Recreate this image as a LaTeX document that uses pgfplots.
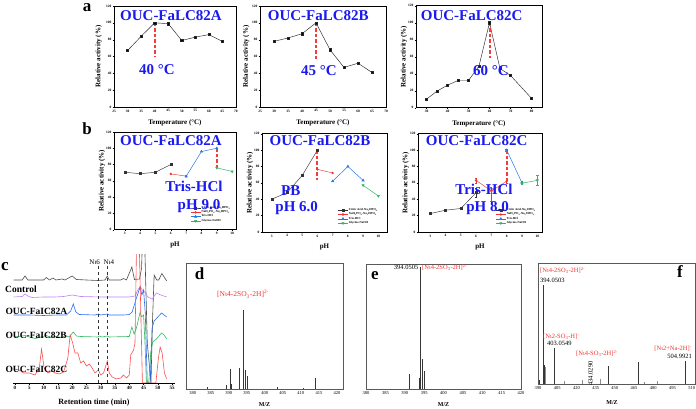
\documentclass[border=0pt]{standalone}
\usepackage{fontspec}
\setmainfont{Liberation Serif}
\usepackage{pgfplots}
\pgfplotsset{compat=1.18}
\definecolor{tblue}{RGB}{25,25,240}
\definecolor{dred}{RGB}{245,60,60}
\definecolor{lblue}{RGB}{40,120,230}
\definecolor{lgreen}{RGB}{50,180,100}
\definecolor{lred}{RGB}{245,50,50}
\definecolor{cpurple}{RGB}{190,130,245}
\definecolor{cred}{RGB}{250,80,80}
\definecolor{cgreen}{RGB}{50,185,100}
\definecolor{cblue}{RGB}{40,110,240}
\definecolor{msc}{RGB}{55,55,55}
\pgfplotsset{
  ab/.style={scale only axis, anchor=south west, ymin=0, ymax=120, ytick={0,20,...,120},
    axis line style={line width=0.45pt},
    every tick/.style={black, line width=0.3pt},
    major tick length=1.5pt, tick align=outside, tick pos=left,
    ticklabel style={font=\fontsize{3.5}{4}\selectfont\bfseries, inner sep=1pt},
    label style={font=\fontsize{7}{8}\selectfont\bfseries},
    /pgf/number format/assume math mode=true,
    ylabel={Relative activity (\%)}, clip=false},
  temp/.style={xlabel={Temperature (°C)},
    xlabel style={at={(axis description cs:0.5,-0.16)},anchor=center}},
  phx/.style={xlabel={pH}, xtick={3,...,10},
    xlabel style={at={(axis description cs:0.5,-0.155)},anchor=center},
    legend style={draw=none, fill=none, font=\fontsize{3}{3.4}\selectfont\bfseries,
      anchor=north west, row sep=-0.6pt, nodes={inner sep=0.7pt}},
    legend cell align=left,
    legend image code/.code={\draw[mark repeat=2,mark phase=2,##1] plot coordinates {(0pt,0pt) (5pt,0pt) (10pt,0pt)};}},
  pa/.style={black!85, line width=0.45pt, mark=square*, mark size=1.1pt, mark options={fill=black}},
  pk/.style={black!80, line width=0.45pt, mark=square*, mark size=1.0pt},
  pr/.style={lred, line width=0.45pt, mark=*, mark size=1.0pt},
  pb/.style={lblue, line width=0.5pt, mark=triangle*, mark size=1.3pt},
  pg/.style={lgreen, line width=0.5pt, mark=triangle*, mark options={rotate=180}, mark size=1.3pt},
  dl/.style={dred, line width=2pt, dash pattern=on 3.5pt off 2pt, no marks, forget plot},
  ms/.style={scale only axis, anchor=south west, ymin=0, ytick=\empty,
    axis line style={black!65, line width=0.7pt},
    every tick/.style={black!70, line width=0.3pt},
    tick pos=left, tick align=outside, major tick length=1.5pt,
    ticklabel style={font=\fontsize{4.5}{5}\selectfont, inner sep=1pt},
    xlabel={M/Z}, label style={font=\fontsize{6}{7}\selectfont\bfseries},
    /pgf/number format/assume math mode=true, clip=true},
  bar/.style={ycomb, no marks, line width=0.6pt, color=msc},
  ct/.style={line width=0.6pt, no marks}
}
\begin{document}
\begin{tikzpicture}[x=1pt,y=1pt]
\useasboundingbox (0,0) rectangle (696,409);

% ---------------- panel a ----------------
\begin{axis}[ab, temp, at={(114pt,302pt)}, width=122pt, height=101pt,
  xmin=25, xmax=70, xtick={25,30,...,70},
  ylabel style={at={(axis description cs:-0.125,0.5)},anchor=center}]
\addplot[pa] coordinates {(30,67)(35,84)(40,100)(45,99)(50,79)(55,83)(60,86)(65,78)};
\addplot[dl] coordinates {(40,100)(40,59)};
\end{axis}
\begin{axis}[ab, temp, at={(260pt,302pt)}, width=126pt, height=101pt,
  xmin=25, xmax=70, xtick={25,30,...,70},
  ylabel style={at={(axis description cs:-0.11,0.5)},anchor=center}]
\addplot[pa] coordinates {(30,78)(35,82)(40,87)(45,100)(50,68)(55,47)(60,52)(65,41)};
\addplot[dl] coordinates {(45,100)(45,56)};
\end{axis}
\begin{axis}[ab, temp, at={(416pt,301.3pt)}, width=126pt, height=102pt,
  xmin=25, xmax=85, xtick={30,40,...,80},
  ylabel style={at={(axis description cs:-0.095,0.5)},anchor=center}]
\addplot[pa] coordinates {(30,10)(35,19.5)(40,26.5)(45,32)(50,32)(55,49)(60,100)(65,46)(70,38)(80,11)};
\addplot[dl] coordinates {(60,100)(60,58)};
\end{axis}

% ---------------- panel b ----------------
\begin{axis}[ab, phx, at={(114pt,179.3pt)}, width=122pt, height=97.7pt,
  xmin=2.3, xmax=10.25,
  ylabel style={at={(axis description cs:-0.098,0.5)},anchor=center},
  legend style={at={(axis description cs:0.6,0.27)}}]
\addplot[pk] coordinates {(3,70.5)(4,68.8)(5,70.5)(6,80)};
\addplot[pr] coordinates {(6,68.5)(7,65.8)};
\addplot[pb] coordinates {(7,65.5)(8,96)(9,100)};
\addplot[pg] coordinates {(9,76)(10,71.5)};
\addplot[dl] coordinates {(9,100)(9,75)};
\legend{Citric Acid-Na\textsubscript{2}HPO\textsubscript{4},NaH\textsubscript{2}PO\textsubscript{4}-Na\textsubscript{2}HPO\textsubscript{4},Tris-HCl,Glycine-NaOH}
\end{axis}
\begin{axis}[ab, phx, at={(262pt,177pt)}, width=125pt, height=98.3pt,
  xmin=2.36, xmax=10.57,
  ylabel style={at={(axis description cs:-0.097,0.5)},anchor=center},
  legend style={at={(axis description cs:0.58,0.27)}}]
\addplot[pk] coordinates {(3,40)(4,48)(5,69)(6,100)};
\addplot[pr] coordinates {(6,76.5)(7,72)};
\addplot[pb] coordinates {(7,62)(8,80)(9,63)};
\addplot[pg] coordinates {(9,57)(10,44)};
\addplot[dl] coordinates {(6,100)(6,64)};
\legend{Citric Acid-Na\textsubscript{2}HPO\textsubscript{4},NaH\textsubscript{2}PO\textsubscript{4}-Na\textsubscript{2}HPO\textsubscript{4},Tris-HCl,Glycine-NaOH}
\end{axis}
\begin{axis}[ab, phx, at={(418pt,177pt)}, width=124pt, height=98.3pt,
  xmin=2.2, xmax=10.31,
  ylabel style={at={(axis description cs:-0.1,0.5)},anchor=center},
  legend style={at={(axis description cs:0.6,0.27)}}]
\addplot[pk, error bars/.cd, y dir=both, y explicit] coordinates {(3,22.5)+-(0,1)(4,26.6)+-(0,0.8)(5,28.7)+-(0,0.8)(6,48)+-(0,5)};
\addplot[pr, error bars/.cd, y dir=both, y explicit] coordinates {(6,63)+-(0,3)(7,50)+=(0,5)-=(0,12)(8,62)+-(0,3)};
\addplot[pb, error bars/.cd, y dir=both, y explicit] coordinates {(8,100)+-(0,1)(9,60)+-(0,1.5)};
\addplot[pg, error bars/.cd, y dir=both, y explicit] coordinates {(9,59.5)+-(0,1)(10,63)+-(0,6)};
\addplot[dl] coordinates {(8,100)(8,62)};
\legend{Citric Acid-Na\textsubscript{2}HPO\textsubscript{4},NaH\textsubscript{2}PO\textsubscript{4}-Na\textsubscript{2}HPO\textsubscript{4},Tris-HCl,Glycine-NaOH}
\end{axis}

% ---------------- panel c ----------------
\begin{axis}[scale only axis, anchor=south west, at={(13pt,26pt)}, width=162pt, height=128pt,
  axis x line*=bottom, axis y line=none, x axis line style={-, line width=0.5pt},
  xmin=-0.7, xmax=56, ymin=0, ymax=128, xtick={0,5,...,55}, minor x tick num=1, ytick=\empty,
  every tick/.style={black, line width=0.3pt}, major tick length=2pt, minor tick length=1.2pt,
  tick align=outside,
  ticklabel style={font=\fontsize{5}{6}\selectfont\bfseries, inner sep=1pt},
  /pgf/number format/assume math mode=true,
  xlabel={Retention time (min)}, label style={font=\fontsize{8}{9}\selectfont\bfseries},
  xlabel style={at={(axis description cs:0.5,-0.155)},anchor=center}, clip=true]
\addplot[ct, black!70] coordinates {(-0.5,103)(2.5,103)(3.5,107)(4.5,103)(10,103)(11,105.5)(12,103)(13.3,105)(14.3,103)(16.5,104)(17.5,103)(20,107)(21.5,103.5)(25,103)(29,102.5)(31.5,103)(32.3,107)(33,103)(37,103)(38,104.5)(39,103)(40.9,116)(41.8,103.5)(43.6,104)(44.3,115)(44.7,150)(45.3,150)(46.3,40)(47.6,0)(48.1,60)(48.7,108)(49.6,103)(50.3,103)(51.4,109.5)(52.2,106)(53.1,102)};
\addplot[ct, cpurple] coordinates {(-0.5,86)(2.5,86.5)(3.5,89)(4.5,87)(6,85.5)(10,86)(14,86)(17,86.5)(20,88)(23,86.5)(30,86)(40,86)(42,87)(43,93)(43.8,96.5)(44.5,93)(45.5,91)(46.5,86)(48,84)(49.5,90)(51,88)(53.1,86)};
\addplot[ct, cblue] coordinates {(-0.5,68)(5,68)(10,67.5)(15,68)(18,68)(19.5,72)(20.4,79)(21.3,71)(22.5,68.5)(28,68)(29.2,69)(30,68)(32.3,69)(33,68)(38,68)(40,68.5)(41,71)(42.5,85)(43.8,96)(44.4,88)(45,93)(45.6,70)(46.3,0)(47.3,0)(48,55)(48.7,62)(50,66)(51.3,70)(52.2,68)(53.1,66)};
\addplot[ct, cgreen] coordinates {(-0.5,46)(2.5,47)(3.5,47.5)(5,46)(7,44.5)(9,46)(11,47.5)(12.5,45.5)(14,46.5)(16.5,45.5)(17.5,47.5)(19,46)(20.4,51)(21.5,47)(23,46.5)(29,46)(29.5,47)(30.5,46)(32.3,47)(33,46)(40,46.5)(40.9,56)(41.7,49)(42.5,55)(43.8,71)(44.3,66)(45,68)(45.5,40)(46,0)(46.8,0)(47.5,30)(48.2,41)(49.5,44)(51.3,50)(52.2,48)(53.1,44)};
\addplot[ct, cred] coordinates {(-0.5,14)(1.5,13)(3,10)(5,10)(7,8)(8.5,15)(9.3,34)(10.2,15)(11.5,10)(13,12)(14,10)(15.5,9)(17,11)(18.5,25)(19.3,48)(20.2,40)(21,30)(22,30)(23,20)(24,22)(25,17)(26,19)(27,15)(28,10)(29.2,13)(30,8)(31,10)(32.3,22)(33,10)(34,6)(35.5,4)(37,5)(38,8)(39,5)(40,8)(40.5,28)(41.5,33)(42,40)(42.6,150)(43.4,150)(44.6,0)(49.3,0)(50.2,25)(50.8,36)(51.5,30)(52.3,10)(53.1,4)};
\addplot[black!80, dashed, line width=0.5pt, no marks] coordinates {(29.1,0)(29.1,117)};
\addplot[black!80, dashed, line width=0.5pt, no marks] coordinates {(32.4,0)(32.4,117)};
\end{axis}

% ---------------- panel d ----------------
\begin{axis}[ms, at={(186pt,20pt)}, width=157pt, height=126pt,
  xmin=378.1, xmax=421.7, xtick={380,385,...,420}, ymax=126,
  xlabel style={at={(axis description cs:0.5,-0.127)},anchor=center}]
\addplot[bar] coordinates {(384,1.5)(389.2,4)(390.3,20)(390.6,5)(392.8,21)(394.05,79)(394.55,19)(395.05,13)(403.4,2)(410.8,1)(413.9,11)};
\end{axis}
% ---------------- panel e ----------------
\begin{axis}[ms, at={(366pt,20pt)}, width=155pt, height=125pt,
  xmin=380, xmax=420, xtick={380,385,...,420}, ymax=125,
  xlabel style={at={(axis description cs:0.5,-0.127)},anchor=center}]
\addplot[bar] coordinates {(391.1,15)(393.8,11)(394.05,121.7)(394.55,30)(395.05,17.7)};
\end{axis}
% ---------------- panel f ----------------
\begin{axis}[ms, at={(538pt,25pt)}, width=157.5pt, height=121pt,
  xmin=390, xmax=513, xtick={390,405,...,510}, ymax=121,
  xlabel style={at={(axis description cs:0.47,-0.15)},anchor=center}]
\addplot[bar] coordinates {(390.9,4)(394.05,99)(394.55,19)(395.05,17.3)(403.05,36.3)(444.8,18)(468.2,22.3)(505.0,23.3)};
\addplot[bar, color=black!45] coordinates {(395.6,17)(410.6,3)(424.6,4)(438.4,4.5)(472.8,1.5)(483.2,3)};
\end{axis}

% ---------------- texts ----------------
\tikzset{big/.style={font=\fontsize{17}{17}\selectfont\bfseries, anchor=base, inner sep=0pt},
  bt/.style={font=\fontsize{15}{15}\selectfont\bfseries, text=tblue, anchor=base, inner sep=0pt},
  cl/.style={font=\fontsize{9.5}{10}\selectfont\bfseries, anchor=base west, inner sep=0pt},
  rl/.style={text=lred, anchor=base west, inner sep=0pt},
  kl/.style={anchor=base west, inner sep=0pt}}
\node[big] at (87,397.5) {a};
\node[big] at (87,274) {b};
\node[big] at (5,138) {c};
\node[big] at (199.5,129) {d};
\node[big] at (375,129) {e};
\node[big] at (680,131) {f};

\node[bt] at (171,388.3) {OUC-FaLC82A};
\node[bt] at (318.3,388.3) {OUC-FaLC82B};
\node[bt] at (471.7,388.3) {OUC-FaLC82C};
\node[bt] at (157,334) {40 °C};
\node[bt] at (318.8,333) {45 °C};
\node[bt] at (491,333) {60 °C};

\node[bt] at (171,263) {OUC-FaLC82A};
\node[bt] at (320,263) {OUC-FaLC82B};
\node[bt] at (476.7,263) {OUC-FaLC82C};
\node[bt] at (194,217) {Tris-HCl};
\node[bt] at (199,199.7) {pH 9.0};
\node[bt] at (290.8,213) {PB};
\node[bt] at (296.7,197) {pH 6.0};
\node[bt] at (484,214.3) {Tris-HCl};
\node[bt] at (487.5,197) {pH 8.0};

\node[cl] at (5,116.3) {Control};
\node[cl] at (5.3,94) {OUC-FaIC82A};
\node[cl] at (5.3,70.7) {OUC-FaIC82B};
\node[cl] at (5.3,36.7) {OUC-FaIC82C};
\node[font=\fontsize{7}{7}\selectfont, anchor=base] at (94.7,144) {Nι6};
\node[font=\fontsize{7}{7}\selectfont, anchor=base] at (108.8,144) {Nι4};

\node[rl, font=\fontsize{7.5}{8}\selectfont] at (217,112) {[Nι4-2SO\textsubscript{3}-2H]\textsuperscript{2-}};
\node[font=\fontsize{6.5}{7}\selectfont, anchor=base east, inner sep=0pt] at (418.5,139) {394.0505};
\node[rl, font=\fontsize{6.5}{7}\selectfont] at (422,139) {[Nι4-2SO\textsubscript{3}-2H]\textsuperscript{2-}};

\node[rl, font=\fontsize{6.5}{7}\selectfont] at (540,136) {[Nι4-2SO\textsubscript{3}-2H]\textsuperscript{2-}};
\node[kl, font=\fontsize{6.5}{7}\selectfont] at (540,126.7) {394.0503};
\node[rl, font=\fontsize{6.5}{7}\selectfont] at (543,70) {[Nι2-SO\textsubscript{3}-H]\textsuperscript{-}};
\node[kl, font=\fontsize{6.5}{7}\selectfont] at (547,63) {403.0549};
\node[rl, font=\fontsize{6.5}{7}\selectfont] at (576,53.3) {[Nι4-SO\textsubscript{3}-2H]\textsuperscript{2-}};
\node[font=\fontsize{6.5}{6.5}\selectfont, rotate=90, inner sep=0pt] at (590.5,35.5) {434.0290};
\node[text=lred, font=\fontsize{6.5}{7}\selectfont, anchor=base east, inner sep=0pt] at (692,58) {[Nι2+Na-2H]\textsuperscript{-}};
\node[font=\fontsize{6.5}{7}\selectfont, anchor=base east, inner sep=0pt] at (692,50.7) {504.9921};
\end{tikzpicture}
\end{document}
